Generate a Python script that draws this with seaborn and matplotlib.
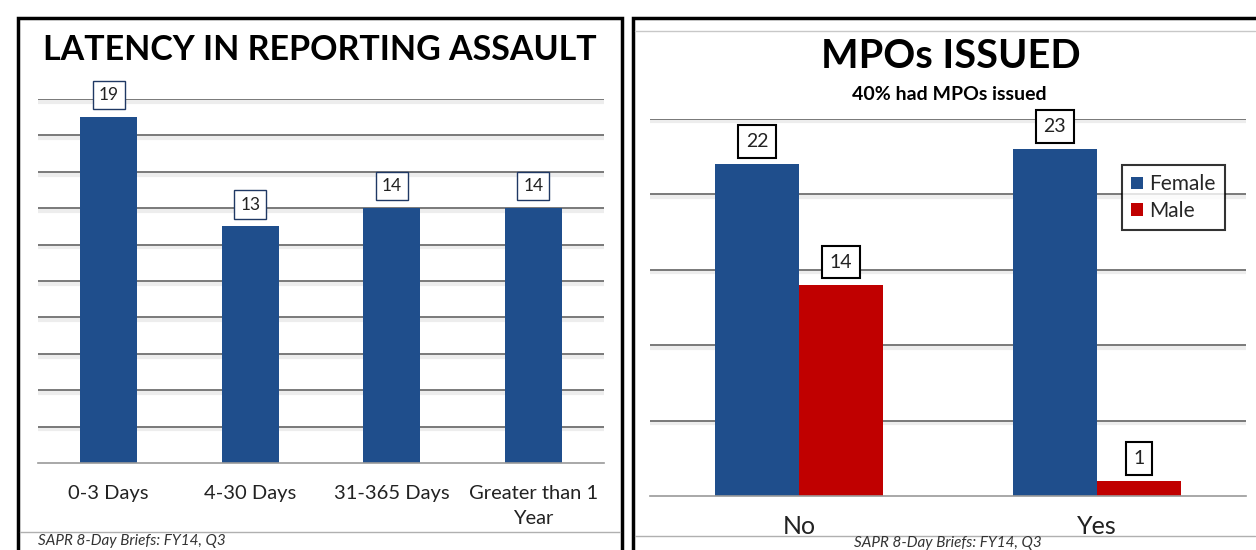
import numpy as np
import pandas as pd
import seaborn as sns
import matplotlib.pyplot as plt
import matplotlib.patheffects as pe
from matplotlib.patches import Rectangle
from matplotlib.lines import Line2D

latency_cats = ["0-3 Days", "4-30 Days", "31-365 Days", "Greater than 1\nYear"]
latency_vals = [19, 13, 14, 14]

mpo_cats = ["No", "Yes"]
mpo_female = [22, 23]
mpo_male = [14, 1]
genders = ["Female", "Male"]

source = "SAPR 8-Day Briefs: FY14, Q3"

blue = "#1f4e8c"
red = "#c00000"

sns.set_style("white")
plt.rcParams["font.family"] = ["Lato", "DejaVu Sans"]

W, H = 1256, 550
fig = plt.figure(figsize=(W / 100, H / 100), dpi=100)


def box(x0, y0, x1, y1):
    # pixel coords (top-left origin) -> figure fraction
    return [x0 / W, 1 - y1 / H, (x1 - x0) / W, (y1 - y0) / H]


def style_axes(ax, ymax, step, ncat):
    ax.set_ylim(0, ymax)
    ax.set_xlim(-0.5, ncat - 0.5)
    ax.set_yticks(np.arange(step, ymax + 0.1, step))
    ax.tick_params(axis="y", length=0, labelleft=False)
    ax.yaxis.grid(True, color="#6f6f6f", lw=1.3)
    for gl in ax.get_ygridlines():
        gl.set_path_effects([pe.SimpleLineShadow(offset=(0, -2), shadow_color="#bbbbbb", alpha=0.25,
                                                 linewidth=3),
                             pe.Normal()])
    ax.set_axisbelow(True)
    for s in ["top", "right", "left"]:
        ax.spines[s].set_visible(False)
    ax.spines["bottom"].set_color("#9a9a9a")
    ax.spines["bottom"].set_linewidth(1.2)
    ax.set_xticks(np.arange(-0.5, ncat, 1.0), minor=True)
    ax.tick_params(axis="x", which="minor", length=6, color="#9a9a9a", width=1.2)
    ax.set_xlabel("")
    ax.set_ylabel("")
    ax.patch.set_alpha(0)


# panel frames
fig.patches.append(Rectangle((18 / W, -0.05), (622 - 18) / W, 1 - 18 / H + 0.05,
                             transform=fig.transFigure, fill=False, ec="black", lw=2.5))
fig.patches.append(Rectangle((633 / W, -0.05), (W + 10 - 633) / W, 1 - 18 / H + 0.05,
                             transform=fig.transFigure, fill=False, ec="black", lw=2.5))
fig.add_artist(Line2D([20 / W, 620 / W], [1 - 532 / H] * 2, color="#b0b0b0", lw=1))
fig.add_artist(Line2D([635 / W, 1 - 1 / W], [1 - 536 / H] * 2, color="#b0b0b0", lw=1))
fig.add_artist(Line2D([635 / W, 1 - 1 / W], [1 - 31 / H] * 2, color="#c8c8c8", lw=1))

# left chart
ax1 = fig.add_axes(box(38, 99, 604, 463))
df1 = pd.DataFrame({"cat": latency_cats, "val": latency_vals})
sns.barplot(data=df1, x="cat", y="val", color=blue, saturation=1, width=0.4, linewidth=0, ax=ax1)
style_axes(ax1, 20, 2, len(latency_cats))
ax1.tick_params(axis="x", which="major", length=0, pad=16, labelsize=14.5, labelcolor="#222222")
for t in ax1.get_xticklabels():
    t.set_linespacing(1.55)
for c in ax1.containers:
    ax1.bar_label(c, padding=10, fontsize=12.5, color="#222222",
                  bbox=dict(boxstyle="square,pad=0.35", fc="white", ec="#1f3864", lw=1))
fig.text(320 / W, 1 - 50 / H, "LATENCY IN REPORTING ASSAULT", ha="center", va="center",
         fontsize=24.5, fontweight="bold", color="black")
fig.text(38 / W, 1 - 541 / H, source, ha="left", va="center", fontsize=11,
         style="italic", color="#333333")

# right chart
ax2 = fig.add_axes(box(650, 118.5, 1246, 496))
df2 = pd.DataFrame({"cat": mpo_cats * 2,
                    "gender": [genders[0]] * len(mpo_cats) + [genders[1]] * len(mpo_cats),
                    "val": mpo_female + mpo_male})
sns.barplot(data=df2, x="cat", y="val", hue="gender", palette=[blue, red], saturation=1,
            width=0.565, gap=0, linewidth=0, ax=ax2)
style_axes(ax2, 25, 5, len(mpo_cats))
ax2.tick_params(axis="x", which="major", length=0, pad=14, labelsize=18, labelcolor="#222222")
for c in ax2.containers:
    ax2.bar_label(c, padding=10, fontsize=14, color="#222222",
                  bbox=dict(boxstyle="square,pad=0.4", fc="white", ec="black", lw=1.5))
leg = ax2.legend(loc="upper left", bbox_to_anchor=((1122 - 650) / 596, 1 - (165 - 118.5) / 377.5),
                 fontsize=15, frameon=True, fancybox=False, handlelength=0.55, handleheight=0.55,
                 handletextpad=0.3, borderpad=0.45, labelspacing=0.3, borderaxespad=0)
leg.get_frame().set_edgecolor("black")
leg.get_frame().set_linewidth(1.5)
fig.text(951 / W, 1 - 56 / H, "MPOs ISSUED", ha="center", va="center",
         fontsize=28.5, fontweight="bold", color="black")
fig.text(949 / W, 1 - 95 / H, "40% had MPOs issued", ha="center", va="center",
         fontsize=14, fontweight="bold", color="black")
fig.text(948 / W, 1 - 543 / H, source, ha="center", va="center", fontsize=11,
         style="italic", color="#333333")

fig.savefig("out.png", dpi=100)
